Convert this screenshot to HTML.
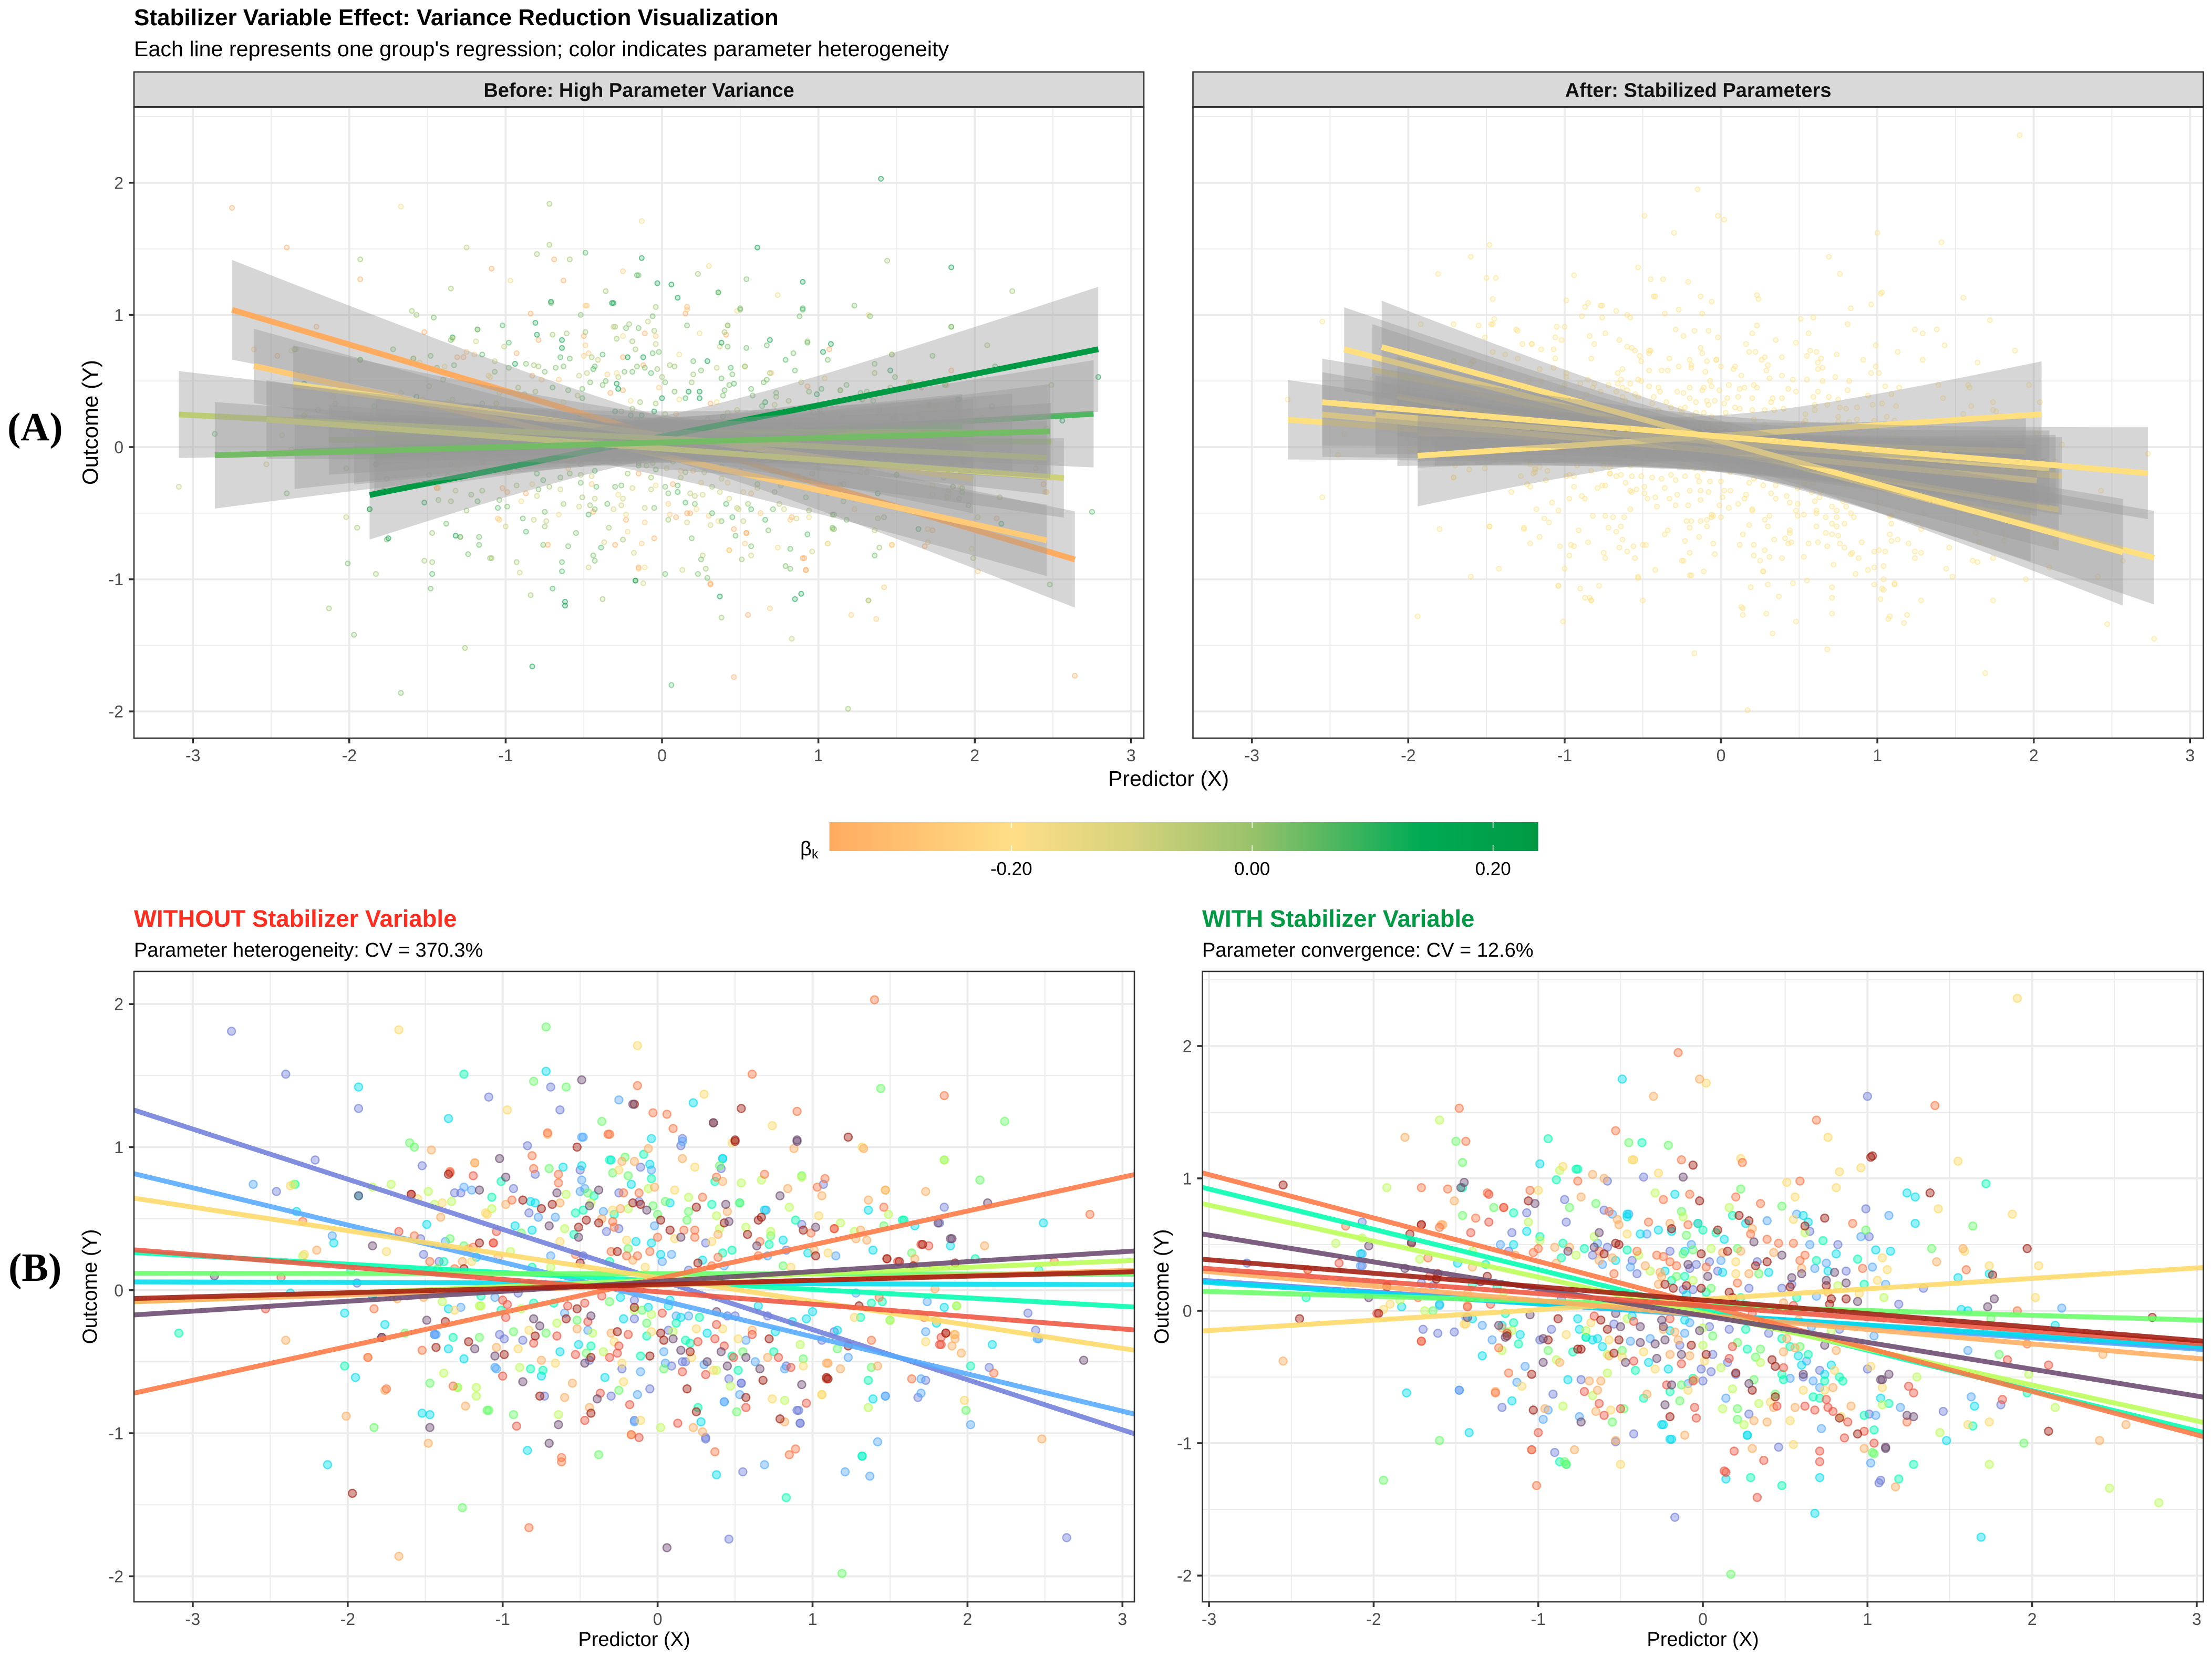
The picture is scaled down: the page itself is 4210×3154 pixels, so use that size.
<!DOCTYPE html>
<html lang="en">
<head>
<meta charset="utf-8">
<title>Stabilizer Variable Effect</title>
<style>
html,body{margin:0;padding:0;background:#fff;}
svg{display:block;font-family:"Liberation Sans",Arial,sans-serif;}
</style>
</head>
<body>
<svg id="chart" xmlns="http://www.w3.org/2000/svg" width="4210" height="3154" viewBox="0 0 4210 3154">
<rect x="0" y="0" width="4210" height="3154" fill="#ffffff"/>
<text x="255" y="48" font-size="44" font-weight="700" fill="#000">Stabilizer Variable Effect: Variance Reduction Visualization</text>
<text x="255" y="107" font-size="41.2" fill="#000">Each line represents one group's regression; color indicates parameter heterogeneity</text>
<text x="14" y="838" font-size="76" font-weight="700" font-family="'Liberation Serif',serif" fill="#000">(A)</text>
<text x="16" y="2438" font-size="76" font-weight="700" font-family="'Liberation Serif',serif" fill="#000">(B)</text>
<text x="2224" y="1496" font-size="41" text-anchor="middle" fill="#000">Predictor (X)</text>
<text x="186" y="804" font-size="42" text-anchor="middle" fill="#000" transform="rotate(-90 186 804)">Outcome (Y)</text>
<text x="255" y="1764" font-size="45.5" font-weight="700" fill="#FF2D1F">WITHOUT Stabilizer Variable</text>
<text x="255" y="1821" font-size="38" fill="#000">Parameter heterogeneity: CV = 370.3%</text>
<text x="2288" y="1764" font-size="45.5" font-weight="700" fill="#009944">WITH Stabilizer Variable</text>
<text x="2288" y="1821" font-size="38" fill="#000">Parameter convergence: CV = 12.6%</text>
<text x="1207" y="3133" font-size="38" text-anchor="middle" fill="#000">Predictor (X)</text>
<text x="3241" y="3133" font-size="38" text-anchor="middle" fill="#000">Predictor (X)</text>
<text x="184" y="2449" font-size="38.6" text-anchor="middle" fill="#000" transform="rotate(-90 184 2449)">Outcome (Y)</text>
<text x="2224" y="2449" font-size="38.6" text-anchor="middle" fill="#000" transform="rotate(-90 2224 2449)">Outcome (Y)</text>
<text x="1523" y="1628" font-size="38" fill="#000">β<tspan font-size="25" dy="6">k</tspan></text>
</svg>
<script>
// ---- Axis ticks ----
const xTickValues=[-3,-2,-1,0,1,2,3];
const yTickValues=[-2,-1,0,1,2];
const xMinorValues=[-2.5,-1.5,-0.5,0.5,1.5,2.5];
const yMinorValues=[-1.5,-0.5,0.5,1.5,2.5];
const legendTickValues=[-0.2,0,0.2];
const legendTickLabels=["-0.20","0.00","0.20"];
const legendLimits=[-0.351,0.2375];
const legendStopValues=[-0.351,-0.2,-0.1,0,0.14,0.2375];
const legendStopColors=["#FFAB60","#FFDE87","#D5D37C","#98C26A","#00AB55","#009944"];

// ---- Groups ----
const groupNames=["violet","sky","cyan","spring","green","lime","gold","orange","coral","red","maroon","plum"];
const groupColors=["#6F7FD9","#55AAFF","#00DDEE","#00FFB0","#66FF66","#BBFF55","#FFD966","#FFAD5F","#FF7744","#EE5540","#A01C10","#6B4A70"];

// ---- Regression estimates, "before" data ----
const beforeSlopes=[-0.3504,-0.2603,-0.003,-0.059,-0.001,0.045,-0.1646,0.034,0.2366,-0.0867,0.029,0.0692];
const beforeIntercepts=[0.075,-0.065,0.048,0.064,0.115,0.07,0.087,0.035,0.08,-0.011,0.04,0.061];
const beforeXMin=[-2.75,-2.61,-2.13,-3.09,-1.83,-2.35,-2.36,-2.86,-1.87,-2.53,-1.97,-1.84];
const beforeXMax=[2.64,2.46,2.49,2.46,2.24,1.92,1.99,2.48,2.79,2.57,1.99,2.76];
const beforeBandSlopeSE=[0.125,0.09,0.1,0.094,0.11,0.1,0.106,0.13,0.16,0.1,0.11,0.136];

// ---- Regression estimates, "after" data ----
const afterSlopes=[-0.0844,-0.085,-0.08,-0.3044,-0.036,-0.2717,0.0788,-0.1092,-0.3275,-0.094,-0.1018,-0.2026];
const afterIntercepts=[-0.027,-0.034,-0.027,0.0066,0.038,-0.017,0.087,-0.032,0.046,0.036,0.08,-0.036];
const afterXMin=[-2.77,-2.07,-1.83,-2.41,-1.94,-2.23,-1.94,-2.55,-2.17,-2.21,-2.55,-2.07];
const afterXMax=[1.94,2.18,2.14,2.77,1.95,1.98,2.05,2.02,2.57,2.1,2.73,2.16];
const afterBandSlopeSE=[0.093,0.115,0.115,0.115,0.11,0.136,0.18,0.11,0.145,0.115,0.114,0.125];

// ---- Observations, "before" data ----
const beforeViolet=[[-2.75,1.81],[-2.4,1.51],[-2.21,.91],[-2.46,.69],[-1.93,1.27],[-1.09,1.35],[-1.52,.87],[-.69,1.42],[-.63,1.26],[-1.51,.25],[-1.27,.68],[-1.31,.68],[1.82,.47],[1.85,.58],[2.39,-.16],[2.44,-.28],[2.14,-.54],[1.73,-.63],[1.68,-.75],[2.64,-1.73],[.46,-1.74],[.92,-.93],[.9,-.84],[.54,-.65],[.83,-.53],[-1.44,-.31],[.31,-1.03],[-.15,-.91],[.55,-1.27],[-.84,1.01],[-.79,.81],[-.93,.71],[-.83,.54],[-.5,.84],[-.25,.68],[-.12,.62],[-.11,.86],[.16,1.06],[.15,1.01],[.41,.85],[1.07,.74],[.93,.46],[-.33,.41],[-.25,.43],[.31,.33],[.83,.28],[.2,.14],[-.48,.24],[-.9,-.02],[-.87,-.35],[-.99,-.34],[-1.02,-.31],[-.15,-.2],[-.15,-.07],[.07,-.28],[.16,-.5],[.18,-.5],[.09,-.53],[.46,-.62],[.54,-.65],[.91,-.84],[.92,-.93],[.31,-1.04],[-.3,-.74],[-.44,-.49],[-.23,-.55],[-.05,-.69],[.5,-.18],[.45,-.18],[.71,-.18],[-.73,-.74],[1.06,-.35],[1.14,-.29],[-1.53,.36],[-1.41,.2],[-1.94,.05]];
const beforeSky=[[-2.61,.74],[-2.1,.38],[-1.37,.34],[-.49,1.07],[-.25,1.33],[.16,1.04],[.69,-1.22],[1.21,-1.27],[1.37,-1.3],[1.42,-1.06],[1.47,-.74],[1.7,-.62],[2.02,-.94],[2.45,-.34],[1.73,-.29],[.43,-.78],[-1.04,-.55],[-1.44,-.31],[-.48,1.07],[-.49,.77],[-.47,.71],[-.5,.69],[-.77,.51],[-.66,.51],[-.35,.55],[-.04,.84],[-.02,.45],[-.69,.24],[.09,.25],[.03,.2],[1.15,.24],[.71,.24],[.7,.56],[.43,.17],[-1.05,-.05],[-.6,-.16],[.2,-.18],[.12,-.18],[.57,-.35],[.63,-.5],[.04,-.43],[.05,-.51],[.3,-.52],[.82,-.55],[.53,-.73],[.43,-.78],[-.13,-.73],[-.15,-.92],[-.11,-.57],[-1.05,-.54],[-.45,-.28],[-1.25,.72],[-1.2,.7],[-1.43,-.31],[-1.27,-.12],[1.28,-.02],[1.74,-.08],[2.46,-.34],[1.23,-.47],[1.47,-.74],[1.7,-.72]];
const beforeCyan=[[-1.93,1.42],[-1.35,1.2],[-.72,1.53],[.23,1.31],[.42,.92],[-.3,.91],[-2.09,.33],[-2.33,.55],[-1.93,.66],[-1.49,.46],[-2.13,-1.22],[-1.76,-.24],[-1.95,-.61],[-2.02,-.16],[-.84,-1.12],[-1.52,-.86],[-1.47,-.87],[.38,-1.29],[1.32,-1.16],[1.39,-.76],[1.36,.56],[1.66,.45],[2.49,.47],[1.89,.31],[2.16,-.38],[1.8,-.23],[1.85,-.12],[-.04,1.06],[.42,.92],[-.61,.86],[-.49,.87],[-.05,.88],[-.17,.74],[-.79,.61],[-.82,.62],[.08,.61],[-.92,.45],[-.81,.42],[.69,.56],[.81,.35],[-.04,.33],[-.14,.34],[.02,.25],[.97,.26],[.29,.21],[-.24,-.05],[-.06,-.12],[-.22,-.2],[.08,-.07],[.07,-.11],[.15,-.19],[.32,-.3],[-.51,-.38],[-.63,-.43],[.65,-.11],[1,-.15],[.96,-.2],[.87,-.22],[.76,-.29],[1.16,-.28],[-.34,-.61],[.28,-.92],[-.75,-.6],[-1.35,-.13],[-1.35,-.41],[-1.25,-.48],[-1.17,.23],[-1.84,-.04],[-2.37,-.02],[1.39,.28]];
const beforeSpring=[[-1.25,1.51],[-3.09,-.3],[-2.02,-.53],[.83,-1.45],[1.58,.49],[2.02,-.53],[1.36,-.63],[1.31,-.19],[1.45,-.08],[-1.07,.65],[-1.01,.76],[-.31,.91],[-.09,.95],[-.04,.78],[.35,.6],[.37,.76],[.53,.61],[-.48,.56],[-.41,.66],[-.53,.54],[-.54,.39],[-.28,.53],[.89,.49],[.72,.32],[.48,.28],[.42,.26],[-.81,.16],[-.31,.2],[-1.01,-.14],[-1.14,-.04],[-.67,-.09],[-.8,-.09],[.27,-.19],[.12,-.23],[-.07,-.32],[.18,-.35],[.21,-.37],[-.11,-.46],[-.43,-.39],[-.82,-.55],[-.74,-.56],[.75,-.43],[.52,-.56],[.48,-.46],[.26,-.82],[-1.38,.2],[-1.32,-.33],[-1.98,.14],[1.59,.49],[2.05,.22],[1.38,-.09],[1.32,-1.16],[2.46,.14],[-2.34,.74]];
const beforeGreen=[[-.72,1.84],[-1.6,1.03],[-1.57,1],[-.8,1.46],[-.59,1.42],[-.36,1.18],[1.44,1.41],[2.24,1.18],[-1.26,-1.52],[-.38,-1.15],[1.19,-1.98],[-1.83,-.96],[-1.47,-.65],[-1.63,-.3],[-1.09,-.84],[-1.29,-.68],[1.99,-.84],[1.5,-.21],[1.93,-.11],[2.08,.77],[1.85,.91],[.93,.8],[-.7,.85],[-.29,.82],[-.21,.93],[-.19,.8],[-.03,.59],[.05,.62],[.4,.87],[.53,.61],[.2,.55],[0,.53],[.19,.49],[-.45,.68],[-.88,.4],[.73,.38],[-.19,.29],[.81,.17],[-.31,-.08],[-.1,-.14],[-.52,-.21],[-.93,-.29],[-.72,-.3],[-1.15,-.33],[-.07,-.23],[-.25,-.7],[-.46,-.44],[.51,-.85],[-.93,-.87],[-1.1,-.84],[.55,-.43],[.94,-.48],[.04,-.55],[-1.34,.36],[-1.25,.31],[-1.42,.15],[1.46,.45],[1.64,.26],[1.16,-.41],[1.38,-.54]];
const beforeLime=[[-2.35,.74],[-2.29,.24],[-1.84,.72],[-1.72,.74],[-1.48,.69],[-1.33,.62],[-1.17,-.68],[1.36,-.82],[1.49,.53],[1.18,.47],[-1.39,-.08],[-1.07,.57],[-.59,.67],[-.43,.61],[-.19,.57],[-.06,.71],[.2,.65],[.38,.52],[.54,.75],[.67,.77],[.93,.79],[.85,.58],[-.6,.43],[.4,.43],[.57,.44],[.73,.41],[-.95,.27],[-.69,.16],[-1.15,-.11],[-.88,-.13],[-.65,-.23],[-.04,-.17],[-.15,-.14],[-.42,-.3],[.1,-.29],[-.35,-.43],[-.89,-.54],[-1.17,-.74],[-.64,-.87],[.38,-.56],[.02,-.96],[.82,-.77],[.92,-.38],[.47,-.67],[-1.44,.6],[-1.38,-.58],[-1.29,-.68],[1.27,.41],[1.85,.91],[1.93,-.11],[1.5,-.21],[-1.14,-.11]];
const beforeGold=[[-1.67,1.82],[-.13,1.71],[.3,1.37],[-.97,1.26],[.74,1.15],[1.32,1],[1.47,.7],[1.8,-.21],[1.91,-.31],[1.98,-.77],[1.06,-.73],[-1.75,.27],[-2.37,.73],[-1.39,.61],[-1.1,.53],[-1.11,.54],[-.63,.34],[-.25,.84],[.11,.7],[.24,.86],[-.29,.56],[-.2,.35],[.11,.36],[.35,.34],[.48,1.03],[1.04,.52],[1.1,.26],[.86,.16],[-.08,.16],[-.9,-.41],[-.83,-.28],[-.28,-.36],[-.04,-.29],[.25,-.27],[.42,-.27],[.52,-.34],[-.66,-.51],[-.22,-.64],[-.23,-.51],[.36,-.56],[.94,-.53],[1.06,-.73],[.74,-.76],[-.11,-.91],[.22,-.47],[-1.55,.64],[-1.2,.2],[-1.31,-.14],[1.78,.17],[1.27,-.19],[1.73,-.36],[-2.28,.25]];
const beforeOrange=[[-2.4,-.35],[-2.01,-.88],[-1.48,-1.07],[-1.67,-1.86],[2.48,-1.04],[1.92,-.34],[1.96,-.44],[2.11,.31],[1.35,.35],[1.42,-.53],[1.18,-.55],[-1.46,.98],[-1.18,.89],[-.71,1.09],[1.73,.69],[-1.24,-.81],[-1.76,-.7],[-1.87,-.47],[-2.2,.28],[-.63,.61],[-.24,.57],[-.02,.72],[-.15,.9],[-.23,.9],[-.06,.99],[.16,.92],[.42,.76],[.45,.55],[.39,.39],[.84,.71],[1.06,.66],[.88,.99],[1.01,.28],[-1.03,.23],[-.36,.5],[-.98,.6],[-1.18,.89],[-.16,.21],[-.52,-.27],[-.3,-.3],[.61,-.28],[.71,-.47],[1.1,-.51],[.82,-.92],[.23,-.96],[.29,-.99],[-.17,-1.01],[-.44,-.82],[-.6,-.75],[-.55,-.65],[-.75,-.49],[-1.04,-.4],[-1.4,.51],[-1.26,.2],[-1.22,.29],[-1.68,-.06],[-1.51,-.05],[1.33,.99],[1.36,.63],[1.47,.7],[1.31,.42],[1.28,.36],[1.66,.22],[1.79,.01],[1.92,-.31],[1.09,-.51],[1.9,-.39]];
const beforeCoral=[[1.4,2.03],[.61,1.51],[-.13,1.43],[1.85,1.36],[.9,1.25],[-.03,1.24],[.06,1.23],[.1,1.13],[-.31,1.09],[2.79,.53],[-.83,-1.66],[.85,-1.15],[.89,-1.11],[.37,-1.13],[-.17,-1.01],[-.62,-1.17],[-.62,-1.2],[-1.32,-.67],[-2.29,.48],[2.56,.2],[2.17,-.58],[1.64,-.62],[1.38,-.35],[-.81,.94],[-.8,.85],[-.64,.81],[-.64,.75],[-.71,1.1],[-.32,1.09],[-.12,.68],[-.22,.68],[-.94,.63],[.29,.65],[.24,.42],[.24,.37],[0,.37],[.17,.42],[-.29,.48],[-.28,.44],[.69,.81],[.38,.79],[1.08,.78],[1.03,.72],[1.14,.43],[.99,.4],[.66,.34],[.65,.24],[-.05,.27],[-.13,.24],[-.3,.27],[-.2,.24],[-.53,.25],[.35,.17],[.39,.23],[-1.34,.83],[-1.57,.38],[-1.47,.2],[-1.31,.15],[-1.19,.3],[-1.83,-.13],[-1.52,-.42],[-1.87,-.47],[-1.75,-.69],[1.46,.58],[1.72,-.19],[1.43,-.05]];
const beforeRed=[[-2.53,-.13],[-2.43,.09],[-1.67,.41],[-1.59,.67],[-1.34,.82],[-1.06,.33],[1.48,.22],[1.55,.2],[1.7,.32],[1.83,-.38],[1.86,-.3],[1.09,-.62],[-1,-.07],[-.97,-.1],[-.98,-.19],[-.58,-.11],[-.47,-.09],[-.45,-.22],[-.36,-.04],[.03,-.16],[.38,-.24],[.49,-.47],[.37,-.34],[.43,-.39],[.26,-.36],[-.19,-.31],[-.25,-.39],[-.26,-.44],[-.31,-.47],[-.53,-.45],[-.65,-.32],[-.8,-.37],[-1,-.6],[-.18,-.8],[-.37,-.72],[.16,-.57],[.31,-.59],[.61,-.31],[.78,-.47],[.86,-.54],[.96,-.79],[.57,-.82],[.13,-.93],[-.12,-1.03],[-.91,-.95],[-.47,-.91],[-1.06,.33],[-1.04,.41],[-1.19,.8],[1.75,.31],[1.83,-.33],[1.82,-.38],[1.14,.43]];
const beforeMaroon=[[-1.97,-1.42],[-1.35,.81],[1.23,1.07],[.54,1.27],[.5,1.04],[.36,1.17],[-.15,1.3],[-1.37,-.22],[-1.78,-.33],[1.02,.24],[-.52,1],[.5,1.05],[-.75,.57],[-.68,.6],[-.87,.63],[-.16,.61],[-.11,.6],[.25,.58],[.02,.49],[.08,.42],[-.38,.47],[-.46,.49],[-.51,.44],[.43,.47],[.58,.39],[.94,.42],[.65,.49],[.67,.51],[-1.15,.33],[-.26,.27],[.26,.19],[-.5,.19],[-.59,-.2],[-.52,-.13],[-.15,-.12],[-.26,-.29],[.04,-.35],[.02,-.3],[.21,-.43],[-.05,-.46],[.19,-.69],[-.43,-.86],[.72,-.34],[.57,-.75],[.68,-.63],[1.1,-.62],[.79,-.9],[.25,-.85],[-.76,-.74],[-.79,-.32],[-.99,-.45],[-.43,-.47],[-1.59,.67],[-1.25,.15],[-1.43,-.4],[-1.22,-.36],[1.71,.32],[1.48,.22],[1.56,.2],[1.92,.19],[1.65,.17],[1.3,-.11],[1.86,-.3],[1.23,-.39],[1.09,-.61]];
const beforePlum=[[-.49,1.47],[-.16,1.3],[.36,1.17],[.9,1.04],[.06,-1.8],[2.75,-.49],[1.89,.36],[2.13,.61],[1.81,.47],[-1.47,-.96],[-2.86,.1],[-1.84,.31],[-.7,-1.07],[-1.49,-.21],[-1.02,.92],[-.98,.79],[-1.15,.7],[-.65,.68],[-.38,.7],[-.44,.59],[-.7,.45],[-.51,.37],[-.07,.56],[.44,.6],[.46,.48],[.15,.37],[.64,.31],[.9,1.05],[1.02,.44],[.79,.66],[-.8,-.2],[-.76,-.25],[-.43,-.18],[-1.18,-.41],[-1.05,-.46],[-.39,-.76],[-.47,-.51],[-.87,-.64],[-.64,-.94],[.1,-.34],[.38,-.15],[.32,-.5],[.45,-.53],[.57,-.47],[.66,-.55],[.93,-.66],[.41,-.43],[.15,-.42],[-1.93,.66],[-1.78,-.33],[1.9,.36]];
const beforeGroups=[beforeViolet,beforeSky,beforeCyan,beforeSpring,beforeGreen,beforeLime,beforeGold,beforeOrange,beforeCoral,beforeRed,beforeMaroon,beforePlum];

// ---- Observations, "after" data ----
const afterViolet=[[1,1.62],[-.17,-1.56],[-2.77,.36],[-2.07,.67],[-2.07,.34],[-1.7,-.14],[-1.61,-.17],[-1.51,-.16],[-1.48,-.6],[-1.22,-.73],[1.07,-1.3],[1.08,-1.28],[1.46,-.76],[1.81,-.71],[1.34,.17],[1.19,.05],[-1.07,.74],[-.84,.84],[-.83,.67],[-.58,.98],[-.6,.76],[-.36,1.01],[.99,.77],[.65,.6],[1.01,.56],[-.03,.66],[-.58,.48],[-.67,.42],[-.43,.38],[-.4,.28],[.04,.37],[-.08,.32],[-.04,.35],[.09,.3],[.28,.17],[.33,.37],[.48,.17],[.54,.2],[.87,.3],[-.2,.45],[.82,.5],[-.12,.16],[-.06,.16],[-.86,.09],[-.54,-.1],[-.92,-.14],[-.99,-.22],[.04,-.12],[.16,-.14],[.4,-.17],[.83,-.14],[-.14,-.26],[.06,-.33],[-.01,-.44],[.05,-.46],[.15,-.39],[.2,-.48],[0,-.53],[.71,-.45],[1,-.44],[-.74,-.52],[-.91,-.63],[.28,-.78],[-.42,-.93],[-.9,-1.07],[.46,-1.03],[-.53,-.99],[.61,-.5],[1.01,-.78],[-1.18,.45],[-1.16,.59],[-1.71,.21]];
const afterSky=[[2.18,.02],[-1.23,.5],[-2.07,.43],[1.61,-.3],[1.63,-.65],[1.2,-.73],[-.55,.73],[-.45,.73],[.39,.68],[.57,.73],[-.34,.58],[.65,.5],[-.64,.51],[.11,.38],[-.07,.5],[.75,.36],[.68,.32],[1.03,.33],[.96,.56],[1.13,.72],[-.61,.35],[-.44,.33],[.69,.11],[1.11,.2],[-.08,-.09],[-.32,-.21],[-.44,-.23],[-.11,-.17],[.66,-.12],[1.04,-.19],[.63,-.38],[.53,-.51],[.67,-.53],[.71,-.58],[.14,-.66],[-.09,-.55],[-.94,-.75],[-.97,-.82],[-.75,-.8],[1.05,-.79],[.72,-.89],[1.02,-1.15],[-1.08,-.42],[-1.64,.19],[-1.6,.04],[-1.44,-.05],[-1.34,-.11],[-1.28,-.22],[-1.13,-.54],[-1.48,-.6],[-2.08,.34]];
const afterCyan=[[-.49,1.75],[1.24,.89],[1.29,.86],[1.29,.66],[1.14,.45],[1.55,.25],[1.74,.28],[1.57,.01],[1.61,0],[2.14,-.11],[1.65,-.72],[1.48,-.98],[.71,-1.26],[.68,-1.53],[1.69,-1.71],[-1.42,-.92],[-1.8,-.62],[-1.83,.03],[-1.6,.05],[-1.49,.36],[-1.15,.5],[-1.34,-.34],[-1.16,-.68],[-.2,-.97],[-.25,-.86],[.14,-1.27],[.27,-.94],[-.99,1.11],[-.17,.88],[-.46,.73],[-.46,.71],[.26,.66],[-.27,.61],[-.38,.58],[-.19,.6],[.13,.54],[.61,.72],[.64,.67],[.81,.43],[1.05,.46],[.4,.29],[.76,.3],[-.23,.3],[-.11,.45],[-.53,.38],[.12,.29],[-1.07,.6],[-.1,.12],[-.76,-.06],[-.43,-.04],[-.11,-.07],[-.2,-.15],[-.75,-.14],[-.71,-.2],[-.67,-.22],[-.64,-.21],[-.61,-.27],[-.33,-.39],[-.21,-.44],[-.82,-.52],[.74,-.48],[.58,-.34],[.6,-.41],[.78,-.41],[-.24,-.86],[-.19,-.97],[.27,-.94],[1.08,-.66],[-2.08,.43],[-1.4,-.06],[-1.22,-.11],[-1.11,-.18]];
const afterSpring=[[-.94,1.3],[-.77,1.07],[-.89,.99],[-.37,1.27],[-2.41,.1],[.48,-1.32],[.29,-1.26],[1.19,-1.27],[1.28,-1.16],[1.64,-.87],[1.97,-.62],[1.72,.96],[-.87,-1.14],[-.83,-1.16],[-.76,1.07],[-.99,.56],[-.85,.51],[-.86,.4],[-.72,.47],[-.46,.46],[-.03,.66],[0,.61],[.18,.72],[.08,.59],[.73,.53],[.69,.38],[.94,.39],[.57,.1],[-.19,.23],[-.11,.26],[.02,.14],[.23,.1],[.26,.04],[.98,.2],[.26,-.14],[.27,-.29],[.48,-.21],[.53,-.27],[.64,-.33],[-.41,-.45],[-.79,-.31],[-.71,-.2],[.48,-.48],[.49,-.52],[.83,-.5],[.85,-.53],[.74,-.53],[.67,-.65],[.71,-.66],[.98,-.79],[1.04,-.9],[-.2,-.61],[-.06,-.51],[-.36,-.66],[1.13,-.7],[-1.46,.93],[-1.15,.74],[-1.32,.35],[-1.4,.2],[-1.25,.18],[-1.2,-.02],[-1.15,-.09],[-1.12,-.25]];
const afterGreen=[[-1.5,1.28],[-1.46,1.12],[-.45,1.27],[-.21,1.25],[-1.94,-1.28],[-1.6,-.98],[.17,-1.99],[1.95,-1],[1.64,.64],[1.39,.47],[-1.46,.72],[1.04,-1.08],[1.75,-.06],[1.8,-.33],[.23,.92],[.48,.79],[-.65,.81],[-.81,.78],[.99,.61],[-.1,.57],[-.13,.75],[-.94,-.3],[-.49,-.3],[.34,.28],[.05,.17],[-.16,.26],[-.12,.43],[-.06,.46],[.21,.47],[.21,-.24],[.35,-.29],[.32,-.35],[.06,-.19],[.59,-.27],[.31,-.52],[-.13,-.56],[-.14,-.68],[.21,-.74],[.21,-.82],[-.55,-.84],[-.48,-.74],[-.84,-1.14],[-.83,-1.16],[1.03,-1.07],[.44,-.63],[-1.27,.78],[-1.64,0],[-1.19,-.16]];
const afterLime=[[-1.6,1.44],[-1.92,.93],[-2.23,.51],[-1.72,.39],[-2.07,.55],[1.74,-1.16],[2.47,-1.34],[2.77,-1.45],[2.14,-.73],[1.98,-.48],[1.3,-.5],[1.44,-.92],[-1.69,0],[-.87,1.06],[-.29,.89],[.16,.78],[-1.06,.67],[-.66,.56],[-.99,.53],[-.77,.42],[-.39,.42],[.05,.47],[.62,.59],[1.1,.1],[.82,.19],[-.12,.71],[-.32,.3],[-.06,.23],[0,-.13],[-.46,-.06],[-.71,-.15],[.78,-.15],[0,-.26],[-.58,-.33],[-.89,-.37],[-.58,-.47],[.11,-.43],[.35,-.39],[.18,-.59],[-.67,-.64],[-.85,-.72],[.12,-.74],[.34,-.7],[.25,-.86],[1.09,-.71],[-1.4,.45],[-1.84,.08],[-1.21,.14],[-1.16,-.15],[-1.22,-.3]];
const afterGold=[[1.91,2.36],[.02,1.72],[-.43,1.14],[.23,1.15],[.76,1.31],[1.55,1.13],[1.88,.73],[1.43,.77],[2.04,.34],[2.02,.1],[1.74,.34],[1.59,.45],[1.61,-.86],[1.74,-.84],[-1.9,.05],[-1.45,-.1],[-1.1,-.57],[-.85,1.09],[-1,.91],[-.42,1.14],[-.27,1.04],[.51,.97],[.56,.86],[.81,.93],[.83,1.05],[.96,1.08],[.55,.69],[1.09,.4],[1.12,.31],[.2,.28],[.2,.37],[1.06,.23],[.95,.13],[-.46,.58],[-.68,-.09],[-.83,-.18],[-.57,-.22],[-.36,-.31],[-.29,-.44],[.01,-.38],[-.49,-.35],[-.09,-.6],[1.02,-.42],[.8,-.45],[.61,-.6],[.74,-.6],[1.09,-.58],[.53,-.83],[.41,-.69],[-.56,-.75],[-.5,-1.16],[.55,-1.01],[.84,-.8],[-2.16,.21],[-1.94,.01],[-1.44,-.1]];
const afterOrange=[[-1.81,1.31],[-1.51,.83],[-1.59,.65],[-2.55,-.38],[-.3,1.62],[-.02,1.75],[1.42,.37],[1.58,.47],[2.43,-.33],[2.57,-.86],[2.41,-.98],[1.17,-1.33],[-1.04,-1.05],[-1.26,-.61],[-.67,1.03],[-.6,1],[-.74,.86],[-.52,.69],[-.51,.65],[-.2,.66],[.3,.62],[-.9,.48],[-.81,.48],[-.89,.36],[-.63,.38],[-.55,.4],[-.35,.34],[-.26,.29],[-.25,.26],[-.27,.2],[.12,.44],[.23,.45],[.28,.28],[.43,.44],[.6,.32],[.76,.14],[.49,.06],[.58,-.07],[.49,-.31],[.51,-.21],[.56,-.28],[.81,-.3],[.79,-.58],[.56,-.73],[.43,-.73],[.31,-.83],[.39,-.84],[-.05,-.52],[-.08,-.34],[-.2,-.33],[-.15,-.22],[-.17,-.16],[-.24,-.14],[-.57,-.34],[-.87,-.39],[-.69,-.53],[-.64,-.6],[-.62,-.53],[-.96,-.74],[-.65,-.76],[.3,-1.04],[.98,-1.04],[-.11,-.94],[-.78,-1.05],[-.53,-.98],[.9,-.72],[-.34,-.63],[-1.58,.65],[-1.4,.33],[-1.14,.42],[-1.55,.11],[-1.43,.13],[-1.43,.04],[-1.22,-.13],[-2.4,.31]];
const afterCoral=[[-.15,1.95],[.69,1.44],[-1.48,1.53],[-1.44,1.28],[1.41,1.55],[-.53,1.36],[-1.71,.93],[-1.55,.92],[-1.31,.89],[-1.21,.78],[-2.17,.64],[-1.67,.4],[1.6,.31],[1.97,-.25],[1.91,0],[-1.71,-.23],[-1.24,-.28],[-1.26,-.62],[-1.01,-1.32],[1.24,-.84],[-1.05,.91],[-.76,.98],[-.24,.84],[-.08,.88],[.2,.86],[.35,.81],[.59,.98],[.24,1.12],[-.13,1.14],[-.09,.65],[-.33,.67],[-.57,.75],[.91,.66],[.39,.54],[.46,.51],[.55,.51],[.29,.58],[.62,.42],[.59,.38],[-1.03,.44],[-1,.47],[-.28,.42],[-.24,.41],[-.2,.37],[-.16,.34],[.02,.33],[-.4,.45],[-.63,.45],[-.54,.28],[.97,.32],[.21,.21],[-1.38,.7],[-1.6,.63],[-1.73,.1],[-1.18,-.47]];
const afterRed=[[-2.21,.36],[-1.71,.65],[-2.4,.31],[-1.92,.19],[-1.98,-.02],[2.1,-.41],[1.85,-.37],[1.25,-.57],[1.28,-.62],[1.82,-.67],[-1.19,-.17],[-1.43,.03],[.55,.04],[.3,-.02],[-.2,-.06],[-.42,-.08],[-.66,-.04],[.18,-.27],[.16,-.36],[-.13,-.4],[-.42,-.38],[.49,-.43],[-.22,-.56],[-.06,-.53],[-.72,-.61],[.75,-.67],[.62,-.72],[.68,-.75],[.76,-.73],[.79,-.76],[.88,-.84],[.45,-.72],[-.05,-.73],[-.04,-.81],[-.6,-.79],[-.63,-.7],[-.5,-.74],[-1,-.92],[-1.04,-1.05],[.19,-1.06],[.37,-1.13],[.71,-1.06],[.71,-1.14],[.86,-.96],[.98,-.91],[1.04,-1],[.13,-1.21],[.33,-1.41],[.14,-1.22],[-1.3,.88],[-1.21,.78],[-1.3,.67],[-1.41,.59],[-1.66,.26],[-1.29,.05],[-1.71,-.23]];
const afterMaroon=[[-2.55,.95],[1.03,1.17],[2.73,-.05],[2.1,-.91],[1.97,.47],[1.38,.89],[1.76,.27],[-1.19,-.19],[-1.77,.51],[-1.78,.58],[-2.45,-.06],[-.06,1.1],[-1.06,.83],[-.02,.83],[.22,.72],[.28,.68],[.74,.7],[.62,.64],[-.19,.62],[.09,.61],[-.53,.51],[-.51,.5],[-.6,.43],[-.01,.43],[.15,.45],[.39,.37],[.32,.34],[1.02,1.16],[-.23,.2],[-.18,.17],[-.1,.19],[-.01,.17],[.16,.14],[.18,.1],[.53,.18],[.75,.19],[.78,.09],[.77,.05],[.87,.09],[-.88,-.06],[-.62,-.07],[-.58,-.14],[-.51,-.22],[-.94,-.22],[-1.04,-.48],[-.76,-.29],[-.74,-.29],[-.54,-.32],[-.07,-.26],[.02,-.33],[.2,-.47],[.42,-.37],[.44,-.42],[.3,-.6],[-1.03,-.75],[-.2,-.8],[.83,-.81],[.94,-.93],[.44,-.65],[-1.71,.65],[-1.61,.28],[-1.62,.24],[-1.31,.26],[-1.92,.18],[-1.97,-.02]];
const afterPlum=[[-1.45,.97],[1.28,-.8],[1.24,-.79],[1.11,-1.03],[1.09,-.52],[1.73,.03],[1.77,.09],[-2.03,.1],[-2.03,.49],[-1.81,.32],[-1.02,.81],[-.63,.59],[-.66,.48],[-.82,.45],[-.09,.35],[.03,.26],[.48,.42],[.54,.25],[.6,.28],[.31,.52],[-.12,1.01],[-1.05,-.03],[-.53,-.02],[-.5,-.12],[-.38,-.12],[-.25,-.07],[-.24,-.12],[-.23,-.22],[-.29,-.25],[-.38,-.24],[-.02,-.15],[-.13,-.33],[-.28,-.36],[-.47,-.39],[-.97,-.39],[-.97,-.21],[.87,.21],[.8,.29],[.75,.23],[.94,.07],[.74,-.26],[.61,-.48],[.28,-.55],[1.08,-.52],[1.13,-.48],[-.23,-.71],[-.19,-.56],[-.74,-.84],[1.11,-1.04],[-1.47,.93],[-1.77,.52],[-1.35,.22],[-1.43,-.05],[-1.24,-.11],[-1.2,-.2]];
const afterGroups=[afterViolet,afterSky,afterCyan,afterSpring,afterGreen,afterLime,afterGold,afterOrange,afterCoral,afterRed,afterMaroon,afterPlum];

// ---- Draw order of the smoothers ----
const bandOrderBefore=[11,10,2,5,4,0,1,6,8,3,9,7];
const bandOrderAfter=[2,0,1,5,4,11,3,7,9,6,8,10];
const lineOrderFits=[0,1,2,3,4,5,6,7,8,11,9,10];
const stabilizedColor="#FFDF7E";
const bandCenterHalfWidth=0.155;

const NS="http://www.w3.org/2000/svg";
const svg=document.getElementById("chart");
function make(parent,tag,attrs,text){
  const e=document.createElementNS(NS,tag);
  for(const k in attrs){e.setAttribute(k,attrs[k]);}
  if(text!==undefined){e.textContent=text;}
  parent.appendChild(e);
  return e;
}
function hexToRgb(h){return [parseInt(h.slice(1,3),16),parseInt(h.slice(3,5),16),parseInt(h.slice(5,7),16)];}
function betaColor(b){
  const v=Math.max(legendStopValues[0],Math.min(legendStopValues[legendStopValues.length-1],b));
  for(let i=0;i<legendStopValues.length-1;i++){
    if(v<=legendStopValues[i+1]){
      const t=(v-legendStopValues[i])/(legendStopValues[i+1]-legendStopValues[i]);
      const a=hexToRgb(legendStopColors[i]);
      const c=hexToRgb(legendStopColors[i+1]);
      return "rgb("+a.map((q,j)=>Math.round(q+(c[j]-q)*t)).join(",")+")";
    }
  }
  return legendStopColors[legendStopColors.length-1];
}

function buildPanel(p){
  const sx=v=>p.xZero+v*p.xUnit;
  const sy=v=>p.yZero-v*p.yUnit;
  const g=make(svg,"g",{});
  
  
  const clipId="clip-"+p.name;
  const defs=make(g,"defs",{});
  const cp=make(defs,"clipPath",{id:clipId});
  make(cp,"rect",{x:p.left,y:p.top,width:p.right-p.left,height:p.bottom-p.top});
  const plot=make(g,"g",{"clip-path":"url(#"+clipId+")"});

  xMinorValues.forEach(v=>{
    const l=make(plot,"line",{x1:sx(v),x2:sx(v),y1:p.top,y2:p.bottom,stroke:"#EBEBEB","stroke-width":1.9});
    
    
  });
  yMinorValues.forEach(v=>{
    const l=make(plot,"line",{x1:p.left,x2:p.right,y1:sy(v),y2:sy(v),stroke:"#EBEBEB","stroke-width":1.9});
    
    
  });
  xTickValues.forEach(v=>{
    const l=make(plot,"line",{x1:sx(v),x2:sx(v),y1:p.top,y2:p.bottom,stroke:"#EBEBEB","stroke-width":3.8});
    
    
  });
  yTickValues.forEach(v=>{
    const l=make(plot,"line",{x1:p.left,x2:p.right,y1:sy(v),y2:sy(v),stroke:"#EBEBEB","stroke-width":3.8});
    
    
  });

  p.groups.forEach((pts,gi)=>{
    const col=p.pointColor(gi);
    pts.forEach(pt=>{
      const c=make(plot,"circle",{cx:sx(pt[0]),cy:sy(pt[1]),r:p.pointRadius,fill:col,"fill-opacity":p.pointFill,stroke:col,"stroke-opacity":p.pointStroke,"stroke-width":p.pointStrokeWidth});
      
      
    });
  });

  if(p.bandOrder){
    p.bandOrder.forEach(gi=>{
      const xa=p.xMin[gi],xb=p.xMax[gi],a=p.intercepts[gi],b=p.slopes[gi],k=p.bandSE[gi];
      const upper=[],lower=[];
      for(let i=0;i<=60;i++){
        const x=xa+(xb-xa)*i/60;
        const half=Math.sqrt(bandCenterHalfWidth*bandCenterHalfWidth+k*k*x*x);
        upper.push(sx(x).toFixed(1)+","+sy(a+b*x+half).toFixed(1));
        lower.unshift(sx(x).toFixed(1)+","+sy(a+b*x-half).toFixed(1));
      }
      const band=make(plot,"polygon",{points:upper.concat(lower).join(" "),fill:"#999999","fill-opacity":0.4});
      
      
      const ln=make(plot,"line",{x1:sx(xa),y1:sy(a+b*xa),x2:sx(xb),y2:sy(a+b*xb),stroke:p.lineColor(gi),"stroke-width":11});
      
      
    });
  } else {
    const xa=(p.left-p.xZero)/p.xUnit,xb=(p.right-p.xZero)/p.xUnit;
    lineOrderFits.forEach(gi=>{
      const a=p.intercepts[gi],b=p.slopes[gi];
      const ln=make(plot,"line",{x1:sx(xa),y1:sy(a+b*xa),x2:sx(xb),y2:sy(a+b*xb),stroke:groupColors[gi],"stroke-width":9.3,"stroke-opacity":0.88});
      
      
    });
  }

  const border=make(g,"rect",{x:p.left,y:p.top,width:p.right-p.left,height:p.bottom-p.top,fill:"none",stroke:"#333333","stroke-width":2.6});
  
  

  xTickValues.forEach(v=>{
    const t=make(g,"line",{x1:sx(v),x2:sx(v),y1:p.bottom,y2:p.bottom+10,stroke:"#333333","stroke-width":3.6});
    
    
    const lab=make(g,"text",{x:sx(v),y:p.bottom+44,"font-size":32,fill:"#4D4D4D","text-anchor":"middle"},String(v));
    
    
  });
  if(p.showY){
    yTickValues.forEach(v=>{
      const t=make(g,"line",{x1:p.left-10,x2:p.left,y1:sy(v),y2:sy(v),stroke:"#333333","stroke-width":3.6});
      
      
      const lab=make(g,"text",{x:p.left-20,y:sy(v)+11.5,"font-size":32,fill:"#4D4D4D","text-anchor":"end"},String(v));
      
      
    });
  }
  if(p.strip){
    const s=make(g,"rect",{x:p.left,y:137,width:p.right-p.left,height:67,fill:"#D9D9D9",stroke:"#333333","stroke-width":2.6});
    
    
    const sb=make(g,"line",{x1:p.left,x2:p.right,y1:204,y2:204,stroke:"#333333","stroke-width":4});
    
    
    const st=make(g,"text",{x:(p.left+p.right)/2,y:184.5,"font-size":38,"font-weight":700,"text-anchor":"middle",fill:"#111"},p.strip);
    
    
  }
}

buildPanel({name:"panel-before-facet",left:255,right:2177,top:204,bottom:1405,xZero:1260,xUnit:297.6,yZero:851,yUnit:251.6,showY:true,
  strip:"Before: High Parameter Variance",groups:beforeGroups,slopes:beforeSlopes,intercepts:beforeIntercepts,xMin:beforeXMin,xMax:beforeXMax,bandSE:beforeBandSlopeSE,bandOrder:bandOrderBefore,
  pointRadius:4.5,pointFill:0.2,pointStroke:0.55,pointStrokeWidth:2,
  pointColor:gi=>betaColor(beforeSlopes[gi]),lineColor:gi=>betaColor(beforeSlopes[gi])});
buildPanel({name:"panel-after-facet",left:2270.5,right:4193.6,top:204,bottom:1405,xZero:3275.5,xUnit:297.6,yZero:851,yUnit:251.6,showY:false,
  strip:"After: Stabilized Parameters",groups:afterGroups,slopes:afterSlopes,intercepts:afterIntercepts,xMin:afterXMin,xMax:afterXMax,bandSE:afterBandSlopeSE,bandOrder:bandOrderAfter,
  pointRadius:4.5,pointFill:0.2,pointStroke:0.5,pointStrokeWidth:2,
  pointColor:()=>stabilizedColor,lineColor:()=>stabilizedColor});
buildPanel({name:"panel-without-stabilizer",left:255,right:2159,top:1849,bottom:3049,xZero:1251.6,xUnit:294.9,yZero:2455.8,yUnit:272.3,showY:true,
  groups:beforeGroups,slopes:beforeSlopes,intercepts:beforeIntercepts,
  pointRadius:7.5,pointFill:0.42,pointStroke:0.65,pointStrokeWidth:2.4,
  pointColor:gi=>groupColors[gi]});
buildPanel({name:"panel-with-stabilizer",left:2288.5,right:4193.6,top:1849,bottom:3049,xZero:3241,xUnit:313.3,yZero:2495,yUnit:252,showY:true,
  groups:afterGroups,slopes:afterSlopes,intercepts:afterIntercepts,
  pointRadius:7.5,pointFill:0.42,pointStroke:0.65,pointStrokeWidth:2.4,
  pointColor:gi=>groupColors[gi]});

// ---- Colour bar ----
const legendLeft=1578.6,legendRight=2927.6,legendTop=1565,legendBottom=1620;
const lx=v=>legendLeft+(v-legendLimits[0])/(legendLimits[1]-legendLimits[0])*(legendRight-legendLeft);
const lgDefs=make(svg,"defs",{});
const lg=make(lgDefs,"linearGradient",{id:"beta-gradient",x1:"0",x2:"1",y1:"0",y2:"0"});
legendStopValues.forEach((v,i)=>{
  make(lg,"stop",{offset:(v-legendLimits[0])/(legendLimits[1]-legendLimits[0]),"stop-color":legendStopColors[i]});
});
const bar=make(svg,"rect",{x:legendLeft,y:legendTop,width:legendRight-legendLeft,height:legendBottom-legendTop,fill:"url(#beta-gradient)"});


legendTickValues.forEach((v,i)=>{
  const t1=make(svg,"line",{x1:lx(v),x2:lx(v),y1:legendTop,y2:legendTop+11,stroke:"#fff","stroke-width":1.6});
  
  
  const t2=make(svg,"line",{x1:lx(v),x2:lx(v),y1:legendBottom-11,y2:legendBottom,stroke:"#fff","stroke-width":1.6});
  
  
  const lab=make(svg,"text",{x:lx(v),y:1665.5,"font-size":35,"text-anchor":"middle",fill:"#000"},legendTickLabels[i]);
  
  
});
</script>
</body>
</html>
